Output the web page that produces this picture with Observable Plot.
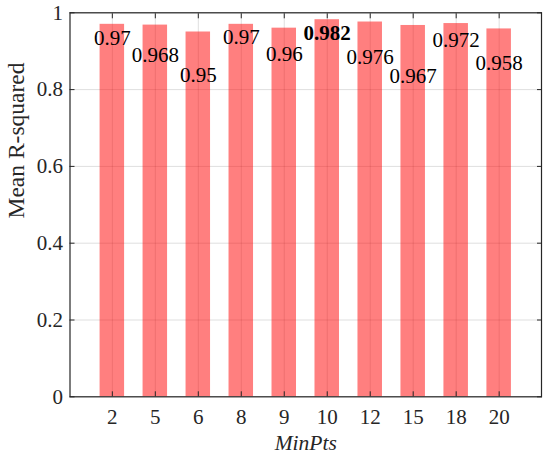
<!DOCTYPE html>
<html>
<head>
<meta charset="utf-8">
<script src="https://cdn.jsdelivr.net/npm/d3@7"></script>
<script src="https://cdn.jsdelivr.net/npm/@observablehq/plot@0.6"></script>
<style>
  html, body { margin: 0; padding: 0; background: #fff; }
  #chart svg { display: block; font-family: "Liberation Serif", serif; }
  #chart svg text { font-family: "Liberation Serif", serif; }
</style>
</head>
<body>
<div id="chart"></div>
<script>
// ---- data ----
const categories = ["2", "5", "6", "8", "9", "10", "12", "15", "18", "20"];
const values = [0.97, 0.968, 0.95, 0.97, 0.96, 0.982, 0.976, 0.967, 0.972, 0.958];
const valueLabels = ["0.97", "0.968", "0.95", "0.97", "0.96", "0.982", "0.976", "0.967", "0.972", "0.958"];
const yTicks = [0, 0.2, 0.4, 0.6, 0.8, 1];

// ---- layout of the value annotations (drop below bar top, in y units) ----
const labelDrop = [0.037, 0.078, 0.113, 0.035, 0.069, 0.035, 0.092, 0.133, 0.043, 0.090];

const best = d3.max(values);
const rows = categories.map((c, i) => ({
  c, v: values[i], label: valueLabels[i], ly: values[i] - labelDrop[i], best: values[i] === best
}));

const font = "Liberation Serif";
const axisColor = "#262626";

const chart = Plot.plot({
  width: 550,
  height: 456,
  marginLeft: 69.5,
  marginRight: 9,
  marginTop: 12.3,
  marginBottom: 59.7,
  style: { fontFamily: font, fontSize: "21px", background: "#fff", color: axisColor },
  x: { domain: categories, paddingInner: 0.43, paddingOuter: 0.70, round: false, label: null },
  y: { domain: [0, 1], label: null },
  marks: [
    Plot.gridY(yTicks, { stroke: "#000", strokeOpacity: 0.13, strokeWidth: 1 }),
    Plot.gridX({ stroke: "#000", strokeOpacity: 0.13, strokeWidth: 1 }),
    Plot.barY(rows, { x: "c", y: "v", fill: "#ff0000", fillOpacity: 0.5 }),
    Plot.frame({ stroke: axisColor, strokeWidth: 1.2 }),
    // inward ticks on all four sides
    Plot.axisY(yTicks, { anchor: "left", tickSize: 5, dx: 5, tickFormat: () => "", label: null, stroke: axisColor }),
    Plot.axisY(yTicks, { anchor: "right", tickSize: 5, dx: -5, tickFormat: () => "", label: null, stroke: axisColor }),
    Plot.axisX({ anchor: "bottom", tickSize: 5, dy: -5, tickFormat: () => "", label: null, stroke: axisColor }),
    Plot.axisX({ anchor: "top", tickSize: 5, dy: 5, tickFormat: () => "", label: null, stroke: axisColor }),
    // tick labels
    Plot.axisY(yTicks, { anchor: "left", tickSize: 0, tickPadding: 7, tickFormat: d => String(d), label: null, fill: axisColor, fontFamily: font, fontVariant: "normal" }),
    Plot.axisX({ anchor: "bottom", tickSize: 0, tickPadding: 11.8, label: null, fill: axisColor, fontFamily: font, fontVariant: "normal" }),
    // value labels
    Plot.text(rows, { filter: d => !d.best, x: "c", y: "ly", text: "label", fill: "#000", fontSize: 21, fontFamily: font }),
    Plot.text(rows, { filter: d => d.best, x: "c", y: "ly", text: "label", fill: "#000", fontSize: 21, fontWeight: "bold", fontFamily: font }),
    // axis titles
    Plot.text(["Mean R-squared"], { frameAnchor: "left", rotate: -90, dx: -53.5, dy: 13.7, fill: axisColor, fontSize: 23.5, fontFamily: font }),
    Plot.text(["MinPts"], { frameAnchor: "bottom", lineAnchor: "bottom", dy: 52.7, fill: axisColor, fontSize: 21.5, fontStyle: "italic", fontFamily: font })
  ]
});

document.getElementById("chart").appendChild(chart);
</script>
</body>
</html>
